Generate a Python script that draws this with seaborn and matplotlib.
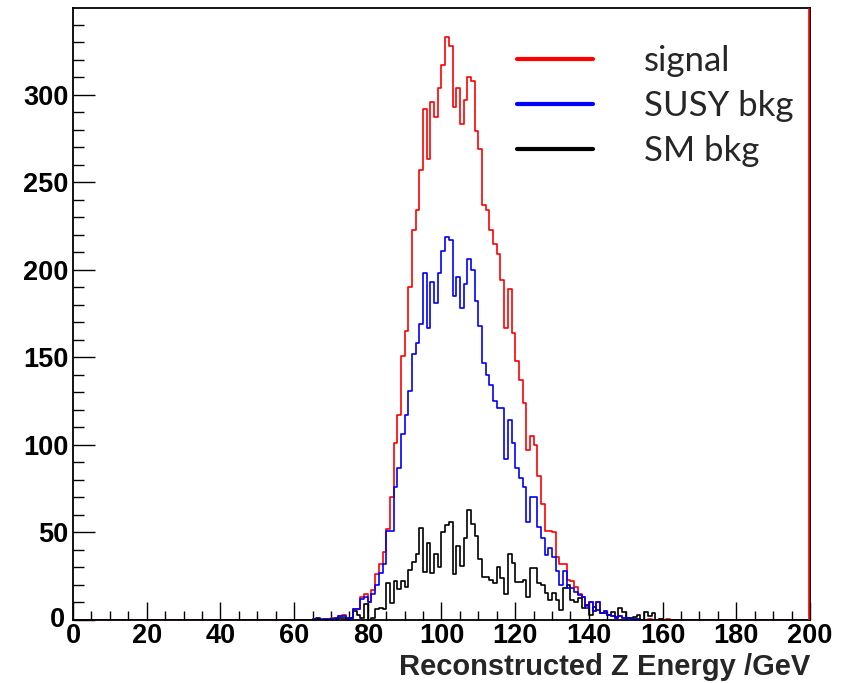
import numpy as np
import pandas as pd
import matplotlib
matplotlib.use("Agg")
import matplotlib.pyplot as plt
import matplotlib.transforms as mtransforms
import seaborn as sns
from matplotlib.lines import Line2D
from matplotlib.ticker import MultipleLocator

# ---- data: 1 GeV bins, low edges 60..164 (all other bins empty) ----
first_bin = 60
signal = [0, 0, 0, 0, 0, 0.5, 0.5, 0, 0.5, 0.5,            # 60-69
          1, 1, 2, 3, 1, 1, 6, 6, 13, 15,                    # 70-79
          10.5, 17, 26, 32, 39, 52, 70, 101, 117, 151,       # 80-89
          165, 190, 223, 234, 257, 292, 263, 296, 287, 304,  # 90-99
          317, 333, 328, 293, 304, 283, 297, 310, 308, 279,  # 100-109
          269, 237, 234, 223, 215, 209, 194, 167, 189, 164,  # 110-119
          148, 137, 124, 97, 105, 100, 82, 66, 51, 51,       # 120-129
          50, 36, 32, 32, 23, 22, 19, 15, 13, 8,             # 130-139
          10, 5, 10, 4, 5, 3, 2, 1, 2, 1,                    # 140-149
          1, 1, 0.5, 0.5, 0, 0, 0.5, 0, 0, 0.5,              # 150-159
          0, 0.5, 0, 0, 0]                                   # 160-164
susy_bkg = [0, 0, 0, 0, 0, 0.5, 0, 0.5, 0.5, 0.5,
            0.5, 1, 2, 2, 1, 1, 6, 6, 12, 13,
            10, 15, 20, 27, 32, 51, 51, 76, 87, 106,
            117, 131, 152, 158, 169, 198, 167, 193, 181, 198,
            211, 219, 217, 185, 196, 178, 192, 206, 200, 182,
            168, 147, 140, 134, 125, 121, 121, 92, 114, 101,
            87, 81, 76, 56, 70, 70, 53, 47, 37, 41,
            36, 28, 20, 28, 18, 18, 16, 14, 13, 7,
            10, 5, 10, 4, 5, 3, 2, 1, 2, 1,
            1, 1, 0.5, 0.5, 0, 0, 0, 0, 0, 0,
            0, 0, 0, 0, 0]
sm_bkg = [0, 0, 0, 0, 0, 0, 1, 0, 0, 0,
          0.5, 0.5, 1, 1, 0, 1, 5, 3, 1, 9,
          0, 1, 6, 7, 6, 21, 9.5, 22, 17.5, 22,
          19, 28.5, 33, 37.5, 52.7, 27.6, 44, 26.6, 37.5, 30,
          50, 54, 56, 26, 42, 31, 47, 63, 55, 48,
          34.6, 24.7, 24.7, 22.8, 21.3, 30, 23.8, 15, 37.6, 32.3,
          21.7, 21.7, 22.8, 13.3, 29.5, 29.5, 20.9, 20, 15.6, 11.4,
          15.2, 11.4, 5.7, 18, 20, 11.4, 10.5, 12.4, 6.7, 8.6,
          2.9, 7.6, 5.7, 3.8, 4.2, 2.9, 4.8, 1.9, 6.7, 4.8,
          1, 1, 1.9, 2.9, 0, 4.8, 2.3, 3.8, 0, 0.4,
          0, 0, 0, 0, 0]
labels = ["signal", "SUSY bkg", "SM bkg"]
colors = ["#ff0000", "#0000ff", "#000000"]
x_ticks = [0, 20, 40, 60, 80, 100, 120, 140, 160, 180, 200]
y_ticks = [0, 50, 100, 150, 200, 250, 300]
xlabel = "Reconstructed Z Energy /GeV"

centers = first_bin + np.arange(len(signal)) + 0.5
df = pd.DataFrame({"energy": centers, "signal": signal,
                   "susy": susy_bkg, "sm": sm_bkg})

sns.set_style("ticks")
plt.rcParams["font.family"] = ["Liberation Sans", "DejaVu Sans"]

fig = plt.figure(figsize=(8.45, 6.83), dpi=100)
ax = fig.add_axes([73/845, 63/683, 737/845, 612/683])

sns.histplot(data=df, x="energy", weights="signal", binwidth=1, binrange=(0, 200),
             element="step", fill=False, color=colors[0], linewidth=1.2, ax=ax)
sns.histplot(data=df, x="energy", weights="sm", binwidth=1, binrange=(65, 161),
             element="step", fill=False, color=colors[2], linewidth=1.2, ax=ax)
sns.histplot(data=df, x="energy", weights="susy", binwidth=1, binrange=(65, 155),
             element="step", fill=False, color=colors[1], linewidth=1.2, ax=ax)
ax.axvline(199.6, color=colors[0], lw=1.2, zorder=5)

ax.set_xlim(0, 200)
ax.set_ylim(0, 349.5)
ax.set_xticks(x_ticks)
ax.set_yticks(y_ticks)
ax.xaxis.set_minor_locator(MultipleLocator(5))
ax.yaxis.set_minor_locator(MultipleLocator(10))
ax.tick_params(axis="both", which="both", direction="in", top=False, right=False,
               colors="black", width=1.0)
ax.tick_params(axis="y", which="major", length=16, pad=3, labelsize=19.5)
ax.tick_params(axis="y", which="minor", length=8)
ax.tick_params(axis="x", which="major", length=13, pad=2, labelsize=19.5)
ax.tick_params(axis="x", which="minor", length=6.5)
for lab in ax.get_xticklabels() + ax.get_yticklabels():
    lab.set_fontweight("bold")
for s in ax.spines.values():
    s.set_visible(True)
    s.set_linewidth(1.3)
    s.set_color("black")

# nudge the y-axis "0" so it does not collide with the x-axis "0"
ylab0 = ax.yaxis.get_major_ticks()[0].label1
ylab0.set_transform(ylab0.get_transform() +
                    mtransforms.ScaledTranslation(-4/100, 3/100, fig.dpi_scale_trans))

ax.set_ylabel("")
ax.set_xlabel("")
fig.text(810/845, 1 - 667/683, xlabel, ha="right", va="center",
         fontsize=21, fontweight="bold")

handles = [Line2D([], [], color=c, lw=3) for c in colors]
fig.legend(handles, labels, loc="upper left", bbox_to_anchor=(517/845, 1 - 45/683),
           frameon=False, borderpad=0, borderaxespad=0, handlelength=2.2,
           handletextpad=1.45, labelspacing=0.38,
           prop={"family": ["Lato", "DejaVu Sans"], "size": 25})

fig.savefig("out.png", dpi=100)
